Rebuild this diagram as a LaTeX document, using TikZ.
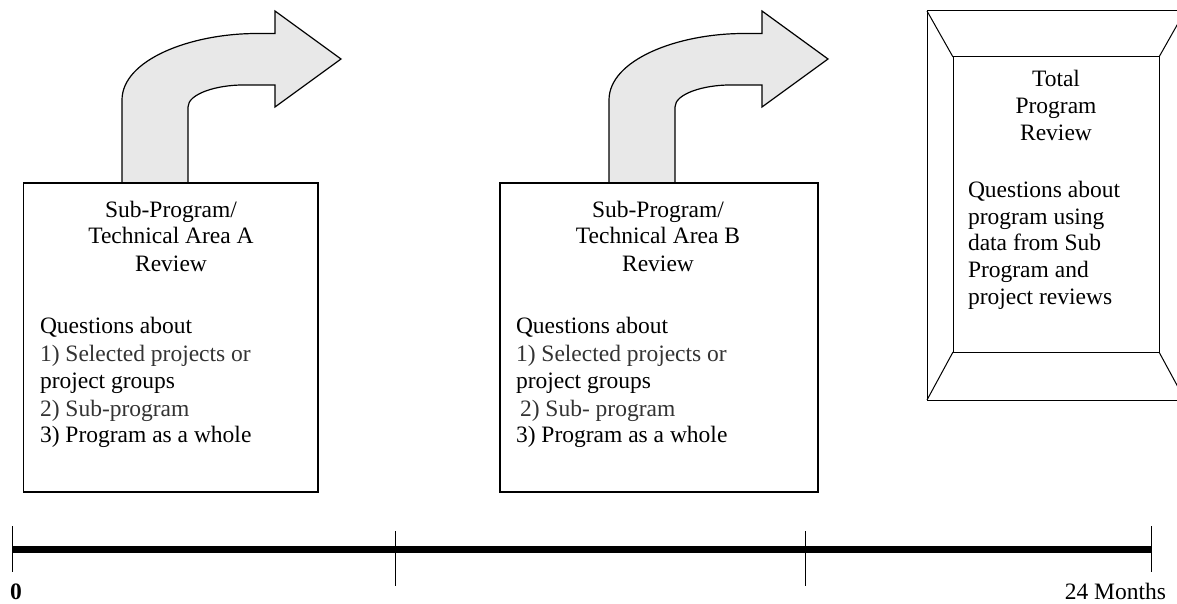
\documentclass[tikz,border=0pt]{standalone}
\usepackage{fontspec}
\setmainfont{Liberation Serif}
\begin{document}
\begin{tikzpicture}[x=1pt,y=-1pt,
  every node/.style={inner sep=0pt,outer sep=0pt},
  txt/.style={font=\fontsize{23.5}{28}\selectfont},
  lft/.style={txt,anchor=base west},
  ctr/.style={txt,anchor=base},
  box/.style={draw,line width=1.4pt,fill=white},
  arrowshape/.style={draw,line width=1.2pt,fill=gray!18,line join=miter},
  tick/.style={line width=0.9pt},
  axis/.style={line width=6.7pt}]
\clip (0,0) rectangle (1177,604);
% curved arrows
\foreach \dx/\nm in {0/arrA,487/arrB}{
  \begin{scope}[shift={(\dx,0)}]
  \path[arrowshape] (122,183) -- (122,100) .. controls (122,60) and (190,33.5) .. (257,33.5)
     -- (275,33.5) -- (275,11) -- (341,59) -- (275,107) -- (275,85) -- (243,85)
     .. controls (216,85) and (188,94) .. (188,107) -- (188,183) -- cycle;
  \end{scope}
}
% box A
\node[box,minimum width=294.5pt,minimum height=309pt] (boxA) at (170.75,337.5) {};
\node[ctr] (a1) at (171,217) {Sub-Program/};
\node[ctr] (a2) at (171,243) {Technical Area A};
\node[ctr] (a3) at (171,271) {Review};
\node[lft] (a4) at (40,333) {Questions about};
\node[lft,text=black!80] (a5) at (40,361) {1) Selected projects or};
\node[lft] (a6) at (40,388) {project groups};
\node[lft,text=black!80] (a7) at (40,416) {2) Sub-program};
\node[lft] (a8) at (40,442) {3) Program as a whole};
% box B
\node[box,minimum width=318pt,minimum height=309pt] (boxB) at (659,337.5) {};
\node[ctr] (b1) at (658,217) {Sub-Program/};
\node[ctr] (b2) at (658,243) {Technical Area B};
\node[ctr] (b3) at (658,271) {Review};
\node[lft] (b4) at (516,333) {Questions about};
\node[lft,text=black!80] (b5) at (516,361) {1) Selected projects or};
\node[lft] (b6) at (516,388) {project groups};
\node[lft,text=black!80] (b7) at (520,416) {2) Sub- program};
\node[lft] (b8) at (516,442) {3) Program as a whole};
% total box
\node[draw,line width=1pt,minimum width=258pt,minimum height=389pt] (tOut) at (1056,205.5) {};
\node[draw,line width=1pt,minimum width=206pt,minimum height=295pt] (tIn) at (1056,204.5) {};
\draw[line width=1pt] (tOut.north west) -- (tIn.north west);
\draw[line width=1pt] (tOut.north east) -- (tIn.north east);
\draw[line width=1pt] (tOut.south west) -- (tIn.south west);
\draw[line width=1pt] (tOut.south east) -- (tIn.south east);
\node[ctr] (t1) at (1056,87) {Total};
\node[ctr] (t2) at (1056,114) {Program};
\node[ctr] (t3) at (1056,141) {Review};
\node[lft] (t4) at (968,197) {Questions about};
\node[lft] (t5) at (968,224) {program using};
\node[lft] (t6) at (968,250) {data from Sub};
\node[lft] (t7) at (968,277) {Program and};
\node[lft] (t8) at (968,304) {project reviews};
% timeline
\coordinate (p0) at (12,549.5);
\coordinate (p1) at (395,549.5);
\coordinate (p2) at (805,549.5);
\coordinate (p3) at (1151,549.5);
\draw[axis] (p0) -- (p3);
\draw[tick] ([yshift=-22pt]p0) -- ([yshift=24pt]p0);
\draw[tick] ([yshift=-36pt]p1) -- ([yshift=19pt]p1);
\draw[tick] ([yshift=-36pt]p2) -- ([yshift=19pt]p2);
\draw[tick] ([yshift=-22pt]p3) -- ([yshift=24pt]p3);
\node[lft,font=\fontsize{23.5}{28}\selectfont\bfseries] (zero) at (10,599) {0};
\node[txt,anchor=base east] (months) at (1166,599) {24 Months};
\end{tikzpicture}
\end{document}
